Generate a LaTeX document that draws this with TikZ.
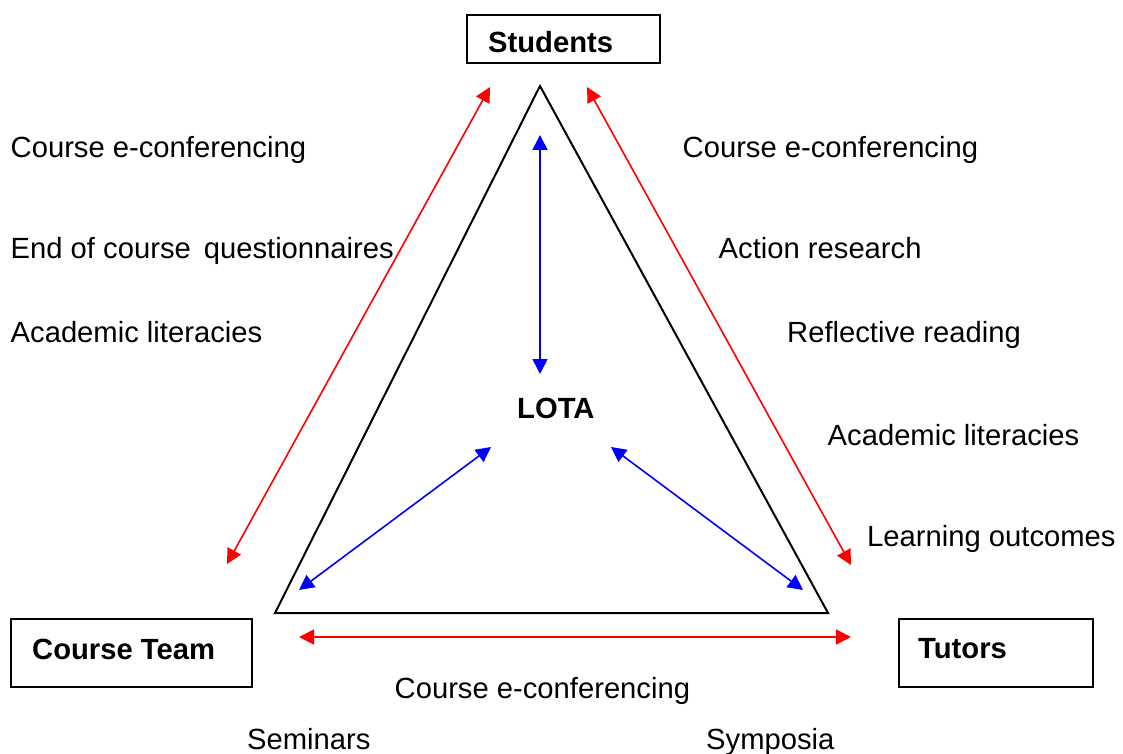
\documentclass[tikz,border=0pt]{standalone}
\usepackage{fontspec}
\setmainfont{Liberation Sans}
\usepackage{tikz}
\usetikzlibrary{arrows.meta}
\tikzstyle{txt} = [anchor=base west, inner sep=0pt, font=\fontsize{29.2}{34}\selectfont]
\tikzstyle{btxt} = [anchor=base west, inner sep=0pt, font=\fontsize{29.2}{34}\selectfont\bfseries]
\tikzstyle{box} = [rectangle, draw, line width=2pt, anchor=north west, inner sep=0pt]
\tikzstyle{redline} = [draw, red, line width=1.6pt, <->]
\tikzstyle{blueline} = [draw, blue, line width=1.6pt, <->]

\begin{document}
\begin{tikzpicture}[x=1pt, y=-1pt, >={Triangle[length=15pt, width=15pt]}]
			\useasboundingbox (0,0) rectangle (1123,754);
			
			% boxes
			\node [box, minimum width=193, minimum height=48] (studentsbox) at (466,14) {};
			\node [box, minimum width=241, minimum height=68] (teambox) at (10,618) {};
			\node [box, minimum width=194, minimum height=68] (tutorsbox) at (898,618) {};
			\node [btxt] (students) at (488,52.5) {Students};
			\node [btxt] (team) at (32,659) {Course Team};
			\node [btxt] (tutors) at (918,658) {Tutors};
			\node [btxt] (lota) at (517,418) {LOTA};
			
			% triangle
			\coordinate (apex) at (540,86);
			\coordinate (bl) at (275,613);
			\coordinate (br) at (828,613);
			\draw [line width=2pt, line join=miter] (apex) -- (bl) -- (br) -- cycle;
			
			% arrow ends
			\coordinate (rtl) at (490,87);
			\coordinate (rbl) at (227,564);
			\coordinate (rtr) at (587,87);
			\coordinate (rbr) at (851,565);
			\coordinate (rl) at (299,637);
			\coordinate (rr) at (851,637);
			\coordinate (btop) at (540,135);
			\coordinate (bmid) at (540,374);
			\coordinate (bl1) at (491,447);
			\coordinate (bl2) at (299,590);
			\coordinate (br1) at (611,447);
			\coordinate (br2) at (803,590);
			
			\path [redline] (rtl) -- (rbl);
			\path [redline] (rtr) -- (rbr);
			\path [redline] (rl) -- (rr);
			\path [blueline] (btop) -- (bmid);
			\path [blueline] (bl1) -- (bl2);
			\path [blueline] (br1) -- (br2);
			
			% left side
			\node [txt] (l1) at (10.5,157.5) {Course e-conferencing};
			\node [txt] (l2) at (10.5,258) {End of course\hspace{13pt}questionnaires};
			\node [txt] (l3) at (10.5,342) {Academic literacies};
			
			% right side
			\node [txt] (r1) at (682.5,157.5) {Course e-conferencing};
			\node [txt] (r2) at (718.5,258) {Action research};
			\node [txt] (r3) at (787,342) {Reflective reading};
			\node [txt] (r4) at (827.5,445) {Academic literacies};
			\node [txt] (r5) at (867,546) {Learning outcomes};
			
			% bottom
			\node [txt] (b1) at (394.5,698) {Course e-conferencing};
			\node [txt] (b2) at (247,749) {Seminars};
			\node [txt] (b3) at (706,749) {Symposia};
		\end{tikzpicture}
\end{document}
